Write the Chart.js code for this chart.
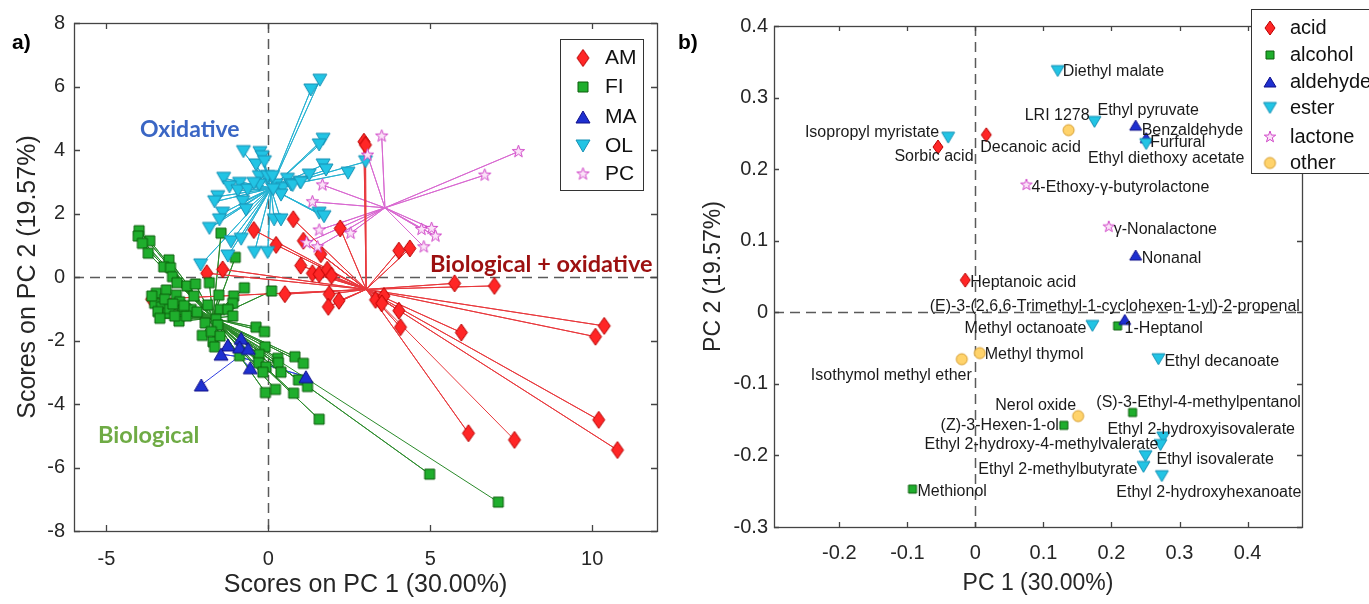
<!DOCTYPE html>
<html>
<head>
<meta charset="utf-8">
<script src="https://cdn.jsdelivr.net/npm/chart.js@4.4.0/dist/chart.umd.min.js"></script>
<style>
html, body { margin: 0; padding: 0; background: #fff; }
#wrap { position: relative; width: 1369px; height: 604px; overflow: hidden; }
canvas { position: absolute; top: 0; }
</style>
</head>
<body>
<div id="wrap">
  <canvas id="scores" width="690" height="604" style="left:0"></canvas>
  <canvas id="loadings" width="699" height="604" style="left:670px"></canvas>
</div>
<script>
// ---- a) scores, one pair of arrays per sample group ----
const groups = ["AM", "FI", "MA", "OL", "PC"];

const amX = [2.95, 3.0, 0.77, 2.22, -0.45, 0.24, 1.08, 1.62, 1.0, 4.03, 4.37, 1.36, 1.57, 1.82, 1.95, -1.41, -1.9, 0.51, -3.6, 1.88, 2.18, 1.85, 3.31, 3.57, 3.5, 4.03, 4.08, 5.75, 6.98, 5.96, 10.37, 10.1, 10.2, 10.78, 6.18, 7.6];
const amY = [4.26, 4.16, 1.82, 1.53, 1.48, 1.01, 1.14, 0.72, 0.36, 0.83, 0.9, 0.12, 0.09, 0.23, 0.04, 0.24, 0.12, -0.54, -0.7, -0.54, -0.75, -0.94, -0.72, -0.6, -0.83, -1.06, -1.58, -0.2, -0.28, -1.75, -1.54, -1.88, -4.5, -5.45, -4.92, -5.13];

const fiX = [-3.99, -4.02, -3.66, -3.89, -3.71, -3.07, -3.23, -3.02, -2.96, -2.82, -2.51, -2.25, -1.82,
  -3.46, -3.15, -2.84, -3.51, -3.3, -3.41, -3.1, -3.05, -2.74, -2.64, -2.38, -2.76, -2.53, -2.89,
  -3.6, -3.2, -2.95, -2.6, -3.35, -2.2, -2.3, -1.95,
  -1.46, -1.02, -0.74, 0.1, -1.53, -1.07, -1.87, -1.1, -1.49, -1.25, -1.1, -1.61, -1.56, -0.38, -0.12,
  -2.04, -1.76, -1.71, -1.49, -1.66, -0.1, -0.28, -0.89, 0.29, 0.82, 1.08, -0.3, -0.07, 0.31, 0.39,
  -0.17, 0.93, 1.21, -0.09, 0.22, 0.78, 1.57, 4.98, 7.1];
const fiY = [1.46, 1.29, 1.14, 1.06, 0.75, 0.54, 0.32, 0.29, 0.01, -0.18, -0.28, -0.22, -0.18,
  -0.51, -0.41, -0.57, -0.83, -0.94, -1.09, -1.14, -0.99, -0.78, -1.04, -1.02, -1.39, -1.23, -1.23,
  -0.6, -0.7, -0.85, -0.9, -1.3, -1.1, -0.6, -1.45,
  1.38, 0.62, -0.34, -0.44, -0.57, -0.6, -0.88, -0.83, -1.02, -1.02, -1.23, -1.33, -1.51, -1.58, -1.72,
  -1.84, -1.72, -2.04, -1.86, -2.2, -2.2, -2.44, -2.48, -2.56, -2.51, -2.72, -2.7, -2.83, -2.7, -3.0,
  -3.0, -3.24, -3.45, -3.64, -3.54, -3.66, -4.48, -6.21, -7.09];

const maX = [-1.25, -0.84, -0.89, -0.62, -1.46, -0.56, 1.16, -2.07];
const maY = [-2.14, -1.93, -2.2, -2.25, -2.43, -2.86, -3.14, -3.4];

const olX = [1.59, 1.31, 1.69, 1.57, 1.69, 1.78, 1.26, 0.98, -0.77, -0.26, -0.19, -0.38, -0.12, -1.38, -0.89, -1.2, -0.94, -0.64,
  -0.28, -0.02, -0.28, 0.24, 0.44, 0.59, 0.7, 0.39, -1.56, -1.66, -1.41, -1.51, -0.79, -0.69, -1.82, -1.15, -0.84,
  0.18, 0.39, 1.57, 1.72, 2.46, 3.0, -0.43, -0.02, -1.25, -2.09, 0.13, 0.75, 1.0, -0.45, 0.15];
const olY = [6.2, 5.89, 4.34, 4.16, 3.53, 3.37, 3.21, 2.98, 3.95, 3.92, 3.79, 3.53, 3.63, 3.11, 2.95, 2.84, 2.72, 2.74,
  3.16, 3.16, 2.9, 2.9, 2.79, 3.08, 2.9, 2.58, 2.53, 2.37, 2.01, 1.8, 2.37, 2.11, 1.53, 1.11, 1.19,
  1.8, 1.8, 2.01, 1.9, 3.27, 3.63, 0.77, 0.77, 0.66, 0.38, 3.16, 2.88, 2.97, 2.95, 2.75];

const pcX = [3.5, 3.06, 7.72, 6.68, 1.67, 1.36, 1.57, 2.54, 1.18, 1.52, 4.73, 5.04, 5.16, 4.8];
const pcY = [4.44, 3.84, 3.95, 3.21, 2.9, 2.37, 1.48, 1.38, 1.08, 0.95, 1.5, 1.53, 1.29, 0.95];

// group centres the rays start from
const centreX = [3.02, -1.71, -0.91, 0.08, 3.6];
const centreY = [-0.39, -1.3, -2.51, 2.79, 2.18];

const scoreXTicks = [-5, 0, 5, 10];
const scoreYTicks = [-8, -6, -4, -2, 0, 2, 4, 6, 8];

// ---- b) loadings ----
const compoundNames = ["Diethyl malate", "Ethyl pyruvate", "LRI 1278", "Benzaldehyde", "Furfural", "Ethyl diethoxy acetate",
  "Isopropyl myristate", "Sorbic acid", "Decanoic acid", "4-Ethoxy-\u03b3-butyrolactone", "\u03b3-Nonalactone", "Nonanal",
  "Heptanoic acid", "(E)-3-(2,6,6-Trimethyl-1-cyclohexen-1-yl)-2-propenal", "1-Heptanol", "Methyl octanoate",
  "Methyl thymol", "Isothymol methyl ether", "Ethyl decanoate", "Nerol oxide", "(S)-3-Ethyl-4-methylpentanol",
  "(Z)-3-Hexen-1-ol", "Ethyl 2-hydroxyisovalerate", "Ethyl 2-hydroxy-4-methylvalerate", "Ethyl isovalerate",
  "Ethyl 2-methylbutyrate", "Ethyl 2-hydroxyhexanoate", "Methionol"];
const compoundTypes = ["ester", "ester", "other", "aldehyde", "aldehyde", "ester",
  "ester", "acid", "acid", "lactone", "lactone", "aldehyde",
  "acid", "aldehyde", "alcohol", "ester",
  "other", "other", "ester", "other", "alcohol",
  "alcohol", "ester", "ester", "ester",
  "ester", "ester", "alcohol"];
const pc1Load = [0.121, 0.175, 0.137, 0.2355, 0.251, 0.251, -0.04, -0.055, 0.016, 0.075, 0.196, 0.2355,
  -0.015, 0.2195, 0.209, 0.172, 0.0064, -0.02, 0.269, 0.151, 0.231,
  0.13, 0.276, 0.272, 0.25, 0.247, 0.274, -0.0925];
const pc2Load = [0.337, 0.266, 0.2545, 0.2615, 0.244, 0.235, 0.244, 0.231, 0.248, 0.178, 0.1195, 0.08,
  0.045, -0.01, -0.019, -0.019, -0.057, -0.0656, -0.0656, -0.145, -0.14,
  -0.158, -0.175, -0.1855, -0.201, -0.216, -0.229, -0.247];
const classes = ["acid", "alcohol", "aldehyde", "ester", "lactone", "other"];

const loadXTicks = [-0.2, -0.1, 0, 0.1, 0.2, 0.3, 0.4];
const loadYTicks = [-0.3, -0.2, -0.1, 0, 0.1, 0.2, 0.3, 0.4];

// label anchors: offset in px from the marker and text alignment
const labelPos = [[5, 1, "left"], [3, -11, "left"], [21, -15, "right"], [6, 5, "left"], [4, 5, "left"], [20, 15, "center"],
  [-9, -5, "right"], [-4, 10, "center"], [-6, 13, "left"], [5, 3, "left"], [5, 3, "left"], [6, 4, "left"],
  [5, 3, "left"], [-10, -13, "center"], [7, 3, "left"], [-6, 3, "right"],
  [5, 2, "left"], [10, 16, "right"], [6, 2, "left"], [-2, -10, "right"], [66, -10, "center"],
  [-5, 0, "right"], [38, -8, "center"], [-2, 0, "right"], [11, 3, "left"],
  [-6, 3, "right"], [47, 16, "center"], [5, 3, "left"]];

const FONT = '"Liberation Sans", Arial, Helvetica, sans-serif';

// draw a marker into a small canvas, used as a Chart.js pointStyle image
function makeMarker(shape, w, h, fill, stroke, lw) {
    const pad = 2;
    const c = document.createElement("canvas");
    c.width = Math.ceil(w + pad * 2);
    c.height = Math.ceil(h + pad * 2);
    const g = c.getContext("2d");
    g.translate(c.width / 2, c.height / 2);
    g.beginPath();
    if (shape === "diamond") {
        g.moveTo(0, -h / 2); g.lineTo(w / 2, 0); g.lineTo(0, h / 2); g.lineTo(-w / 2, 0);
    } else if (shape === "square") {
        g.rect(-w / 2, -h / 2, w, h);
    } else if (shape === "up") {
        g.moveTo(0, -h / 2); g.lineTo(w / 2, h / 2); g.lineTo(-w / 2, h / 2);
    } else if (shape === "down") {
        g.moveTo(-w / 2, -h / 2); g.lineTo(w / 2, -h / 2); g.lineTo(0, h / 2);
    } else if (shape === "star") {
        for (let k = 0; k < 10; k++) {
            const r = k % 2 ? w * 0.2 : w / 2;
            const a = -Math.PI / 2 + k * Math.PI / 5;
            g.lineTo(r * Math.cos(a), r * Math.sin(a));
        }
    } else {
        g.arc(0, 0, w / 2, 0, Math.PI * 2);
    }
    g.closePath();
    g.fillStyle = fill;
    g.fill();
    g.lineWidth = lw;
    g.strokeStyle = stroke;
    g.stroke();
    return c;
}

const groupStyle = {
    AM: { line: "#e8383c", marker: makeMarker("diamond", 12, 17, "#ff2626", "#b80000", 1) },
    FI: { line: "#2a8a2a", marker: makeMarker("square", 10, 10, "#1fae2d", "#0c5e0c", 1) },
    MA: { line: "#2f3fe0", marker: makeMarker("up", 14, 12, "#1e30d0", "#10108a", 1) },
    OL: { line: "#26b2d2", marker: makeMarker("down", 14, 12, "#22c4e4", "#1690b4", 1) },
    PC: { line: "#d868d0", marker: makeMarker("star", 13, 13, "#fbe4f8", "#d048c8", 1) }
};
const classStyle = {
    acid: makeMarker("diamond", 10, 14, "#ff2626", "#b80000", 1),
    alcohol: makeMarker("square", 8, 8, "#1fae2d", "#0c5e0c", 1),
    aldehyde: makeMarker("up", 12, 10, "#1e30d0", "#10108a", 1),
    ester: makeMarker("down", 13, 11, "#22c4e4", "#1690b4", 1),
    lactone: makeMarker("star", 12, 12, "#fbe4f8", "#d048c8", 1),
    other: makeMarker("circle", 11, 11, "#ffd36b", "#d49a2a", 1)
};

const scoreXs = [amX, fiX, maX, olX, pcX];
const scoreYs = [amY, fiY, maY, olY, pcY];

function rays(cx, cy, xs, ys) {
    const d = [];
    xs.forEach((x, i) => { d.push({ x: cx, y: cy }); d.push({ x: x, y: ys[i] }); });
    return d;
}

const scoreSets = [];
groups.forEach((g, i) => {
    scoreSets.push({
        label: g + " rays", data: rays(centreX[i], centreY[i], scoreXs[i], scoreYs[i]),
        showLine: true, pointRadius: 0, borderColor: groupStyle[g].line, borderWidth: 1, order: 200
    });
});
groups.forEach((g, i) => {
    scoreSets.push({
        label: g, data: scoreXs[i].map((x, j) => ({ x: x, y: scoreYs[i][j] })),
        pointStyle: groupStyle[g].marker, pointRadius: 5, order: 100 - i
    });
});

// frame, inside ticks and dashed zero lines, MATLAB style
const framePlugin = {
    id: "frame",
    beforeDatasetsDraw(chart) {
        const { ctx, chartArea: a, scales: { x, y } } = chart;
        ctx.save();
        ctx.strokeStyle = "#5a5a5a";
        ctx.lineWidth = 1.5;
        ctx.setLineDash([10, 6]);
        ctx.beginPath();
        const x0 = Math.round(x.getPixelForValue(0)) + 0.5;
        const y0 = Math.round(y.getPixelForValue(0)) + 0.5;
        ctx.moveTo(x0, a.top); ctx.lineTo(x0, a.bottom);
        ctx.moveTo(a.left, y0); ctx.lineTo(a.right, y0);
        ctx.stroke();
        ctx.restore();
    },
    afterDatasetsDraw(chart, args, opts) {
        const { ctx, chartArea: a, scales: { x, y } } = chart;
        const t = opts.tick || 6;
        ctx.save();
        ctx.strokeStyle = "#444";
        ctx.lineWidth = 1.3;
        ctx.strokeRect(a.left + 0.5, a.top + 0.5, a.right - a.left, a.bottom - a.top);
        ctx.beginPath();
        x.ticks.forEach(tk => {
            const p = Math.round(x.getPixelForValue(tk.value)) + 0.5;
            ctx.moveTo(p, a.bottom); ctx.lineTo(p, a.bottom - t);
            ctx.moveTo(p, a.top); ctx.lineTo(p, a.top + t);
        });
        y.ticks.forEach(tk => {
            const p = Math.round(y.getPixelForValue(tk.value)) + 0.5;
            ctx.moveTo(a.left, p); ctx.lineTo(a.left + t, p);
            ctx.moveTo(a.right, p); ctx.lineTo(a.right - t, p);
        });
        ctx.stroke();
        ctx.restore();
    }
};

function drawLegend(ctx, box, items, markers, font) {
    ctx.save();
    ctx.fillStyle = "#fff";
    ctx.fillRect(box.x, box.y, box.w, box.h);
    ctx.strokeStyle = "#333";
    ctx.lineWidth = 1;
    ctx.strokeRect(box.x + 0.5, box.y + 0.5, box.w, box.h);
    ctx.font = font;
    ctx.fillStyle = "#111";
    ctx.textBaseline = "middle";
    ctx.textAlign = "left";
    items.forEach((it, i) => {
        const m = markers[i];
        const yy = box.rows[i];
        ctx.drawImage(m, box.mx - m.width / 2, yy - m.height / 2);
        ctx.fillText(it, box.tx, yy);
    });
    ctx.restore();
}

const scoreDecor = {
    id: "scoreDecor",
    afterDraw(chart) {
        const ctx = chart.ctx;
        ctx.save();
        ctx.textBaseline = "middle";
        ctx.textAlign = "left";
        ctx.font = "bold 23px Lato, 'Open Sans', sans-serif";
        ctx.fillStyle = "#3a66c4";
        ctx.fillText("Oxidative", 140, 130);
        ctx.fillStyle = "#9c1010";
        ctx.font = "bold 23.5px Lato, 'Open Sans', sans-serif";
        ctx.fillText("Biological + oxidative", 430, 264);
        ctx.fillStyle = "#6fab45";
        ctx.fillText("Biological", 98, 435);
        ctx.fillStyle = "#000";
        ctx.font = "bold 21px " + FONT;
        ctx.fillText("a)", 12, 43);
        ctx.restore();
        drawLegend(ctx, { x: 560, y: 39, w: 83, h: 151, mx: 583, tx: 605, rows: [58, 87, 117, 146, 174] },
            groups, groups.map(g => groupStyle[g].marker), "21px " + FONT);
    }
};

const tickFont = { family: FONT, size: 20 };

new Chart(document.getElementById("scores"), {
    type: "scatter",
    data: { datasets: scoreSets },
    options: {
        responsive: false, animation: false, devicePixelRatio: 1, events: [],
        layout: { padding: { left: 0, top: 23, right: 33, bottom: 0 } },
        plugins: { legend: { display: false }, tooltip: { enabled: false }, frame: { tick: 6 } },
        scales: {
            x: {
                type: "linear", min: -6, max: 12,
                afterBuildTicks: s => { s.ticks = scoreXTicks.map(v => ({ value: v })); },
                afterFit: s => { s.height = 73; },
                grid: { display: false, drawTicks: false }, border: { display: false },
                ticks: { font: tickFont, color: "#262626", padding: 16, maxRotation: 0, autoSkip: false },
                title: { display: true, text: "Scores on PC 1 (30.00%)", color: "#262626", font: { family: FONT, size: 25 }, padding: { top: 0, bottom: 4 } }
            },
            y: {
                type: "linear", min: -8, max: 8,
                afterBuildTicks: s => { s.ticks = scoreYTicks.map(v => ({ value: v })); },
                afterFit: s => { s.width = 74; },
                grid: { display: false, drawTicks: false }, border: { display: false },
                ticks: { font: tickFont, color: "#262626", padding: 9, autoSkip: false },
                title: { display: true, text: "Scores on PC 2 (19.57%)", color: "#262626", font: { family: FONT, size: 25 }, padding: { top: 13, bottom: 0 } }
            }
        }
    },
    plugins: [framePlugin, scoreDecor]
});

// ---- b) loadings chart ----
const loadSets = classes.map((c, i) => ({
    label: c,
    data: compoundNames.map((n, j) => ({ x: pc1Load[j], y: pc2Load[j], t: compoundTypes[j] })).filter(p => p.t === c),
    pointStyle: classStyle[c], pointRadius: 5, order: 100 - i
}));

const loadDecor = {
    id: "loadDecor",
    afterDraw(chart) {
        const { ctx, scales: { x, y } } = chart;
        ctx.save();
        ctx.font = "16px " + FONT;
        ctx.fillStyle = "#1a1a1a";
        ctx.textBaseline = "middle";
        compoundNames.forEach((n, i) => {
            const p = labelPos[i];
            ctx.textAlign = p[2];
            ctx.fillText(n, x.getPixelForValue(pc1Load[i]) + p[0], y.getPixelForValue(pc2Load[i]) + p[1]);
        });
        ctx.textAlign = "left";
        ctx.fillStyle = "#000";
        ctx.font = "bold 21px " + FONT;
        ctx.fillText("b)", 8, 43);
        ctx.restore();
        drawLegend(ctx, { x: 581, y: 9, w: 130, h: 164, mx: 600, tx: 620, rows: [28, 55, 82, 108, 137, 163] },
            classes, classes.map(c => classStyle[c]), "20px " + FONT);
    }
};

new Chart(document.getElementById("loadings"), {
    type: "scatter",
    data: { datasets: loadSets },
    options: {
        responsive: false, animation: false, devicePixelRatio: 1, events: [],
        layout: { padding: { left: 0, top: 26, right: 67, bottom: 0 } },
        plugins: { legend: { display: false }, tooltip: { enabled: false }, frame: { tick: 5 } },
        scales: {
            x: {
                type: "linear", min: -0.296, max: 0.48,
                afterBuildTicks: s => { s.ticks = loadXTicks.map(v => ({ value: v })); },
                afterFit: s => { s.height = 77; },
                grid: { display: false, drawTicks: false }, border: { display: false },
                ticks: { font: tickFont, color: "#262626", padding: 14, maxRotation: 0, autoSkip: false, callback: v => String(v) },
                title: { display: true, text: "PC 1 (30.00%)", color: "#262626", font: { family: FONT, size: 23 }, padding: { top: 0, bottom: 7 } }
            },
            y: {
                type: "linear", min: -0.3, max: 0.4,
                afterBuildTicks: s => { s.ticks = loadYTicks.map(v => ({ value: v })); },
                afterFit: s => { s.width = 104; },
                grid: { display: false, drawTicks: false }, border: { display: false },
                ticks: { font: tickFont, color: "#262626", padding: 6, autoSkip: false, callback: v => String(v) },
                title: { display: true, text: "PC 2 (19.57%)", color: "#262626", font: { family: FONT, size: 23 }, padding: { top: 30, bottom: 0 } }
            }
        }
    },
    plugins: [framePlugin, loadDecor]
});
</script>
</body>
</html>
